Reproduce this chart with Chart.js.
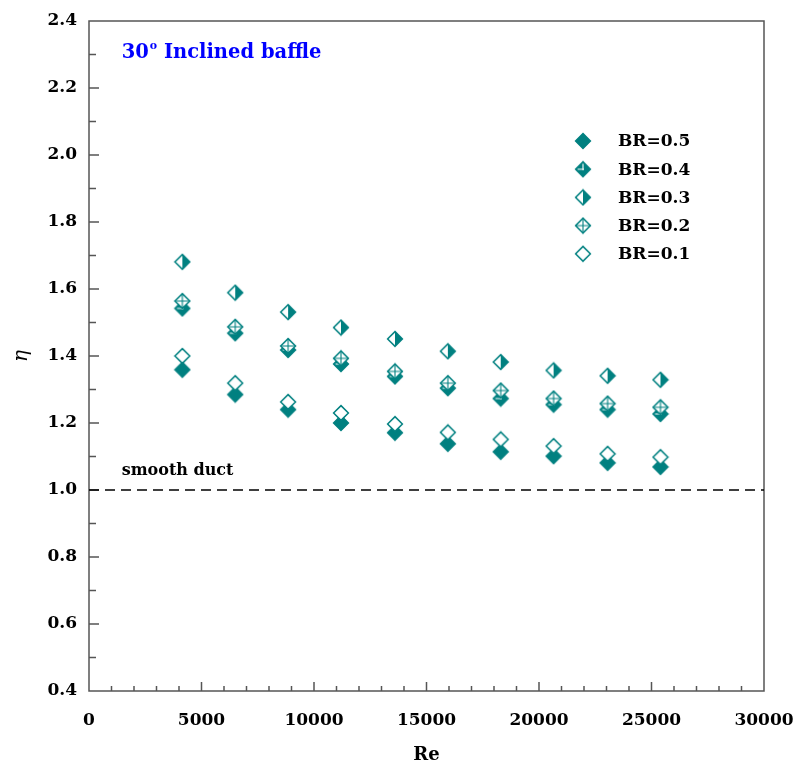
<!DOCTYPE html>
<html>
<head>
<meta charset="utf-8">
<script src="https://cdn.jsdelivr.net/npm/chart.js@4"></script>
<style>
  html, body { margin: 0; padding: 0; background: #fff; }
  #wrap { width: 793px; height: 772px; }
</style>
</head>
<body>
<div id="wrap"><canvas id="chart"></canvas></div>
<script>
// Re values (x) shared by every series
const reValues = [4150, 6500, 8850, 11200, 13600, 15950, 18300, 20650, 23050, 25400];

// thermal performance factor per blockage ratio
const etaBR05 = [1.359, 1.285, 1.240, 1.200, 1.171, 1.138, 1.114, 1.101, 1.081, 1.069];
const etaBR04 = [1.542, 1.468, 1.418, 1.376, 1.339, 1.304, 1.273, 1.255, 1.240, 1.227];
const etaBR03 = [1.681, 1.589, 1.531, 1.485, 1.451, 1.414, 1.382, 1.357, 1.341, 1.329];
const etaBR02 = [1.564, 1.487, 1.430, 1.393, 1.354, 1.319, 1.297, 1.273, 1.258, 1.247];
const etaBR01 = [1.400, 1.319, 1.263, 1.230, 1.197, 1.172, 1.151, 1.131, 1.108, 1.098];

const seriesLabels = ["BR=0.5", "BR=0.4", "BR=0.3", "BR=0.2", "BR=0.1"];
const markerKinds = ["full", "fullCross", "half", "cross", "open"];
const smoothDuct = [1.0, 1.0];
const smoothDuctRe = [0, 30000];

const teal = "#008080";
const serif = "'DejaVu Serif', 'Liberation Serif', serif";

// dibuja un rombo como imagen para usarlo como pointStyle
function makeMarker(kind) {
    const c = document.createElement("canvas");
    c.width = 18; c.height = 18;
    const g = c.getContext("2d");
    const m = 9, r = 7.4;
    const diamond = () => {
        g.beginPath();
        g.moveTo(m, m - r); g.lineTo(m + r, m); g.lineTo(m, m + r); g.lineTo(m - r, m);
        g.closePath();
    };
    g.lineWidth = 1.5;
    g.strokeStyle = teal;
    diamond();
    if (kind === "full" || kind === "fullCross") {
        g.fillStyle = teal; g.fill();
    } else {
        g.fillStyle = "#fff"; g.fill();
    }
    if (kind === "half") {
        g.beginPath();
        g.moveTo(m, m - r); g.lineTo(m + r, m); g.lineTo(m, m + r); g.closePath();
        g.fillStyle = teal; g.fill();
    }
    diamond(); g.stroke();
    if (kind === "cross") {
        g.beginPath();
        g.moveTo(m, m - r); g.lineTo(m, m + r);
        g.moveTo(m - r, m); g.lineTo(m + r, m);
        g.lineWidth = 1.1; g.stroke();
    }
    if (kind === "fullCross") {
        g.beginPath();
        g.moveTo(m, m - r + 2); g.lineTo(m, m + 1);
        g.moveTo(m - r + 2, m); g.lineTo(m + 1, m);
        g.strokeStyle = "#fff"; g.lineWidth = 1.1; g.stroke();
    }
    return c;
}

const markers = markerKinds.map(makeMarker);
const seriesValues = [etaBR05, etaBR04, etaBR03, etaBR02, etaBR01];

const datasets = seriesValues.map((vals, i) => ({
    type: "scatter",
    label: seriesLabels[i],
    data: reValues.map((x, j) => ({ x: x, y: vals[j] })),
    pointStyle: markers[i],
    pointRadius: 8,
    order: 5 - i
}));

// línea discontinua del conducto liso
datasets.push({
    type: "line",
    label: "smooth duct",
    data: smoothDuctRe.map((x, j) => ({ x: x, y: smoothDuct[j] })),
    borderColor: "#000",
    borderWidth: 1.6,
    borderDash: [10, 6],
    pointRadius: 0,
    order: 10
});

// marco, marcas de los ejes hacia dentro, textos y leyenda
const framePlugin = {
    id: "frame",
    beforeDatasetsDraw(chart) {
        const { ctx, chartArea: a, scales } = chart;
        ctx.save();
        ctx.strokeStyle = "#555";
        ctx.lineWidth = 1.5;
        ctx.strokeRect(a.left, a.top, a.right - a.left, a.bottom - a.top);
        ctx.beginPath();
        for (let v = 1000; v < 30000; v += 1000) {
            const px = scales.x.getPixelForValue(v);
            const len = v % 5000 === 0 ? 9 : 5;
            ctx.moveTo(px, a.bottom); ctx.lineTo(px, a.bottom - len);
        }
        for (let k = 5; k < 24; k++) {
            const py = scales.y.getPixelForValue(k / 10);
            const len = k % 2 === 0 ? 10 : 7;
            ctx.moveTo(a.left, py); ctx.lineTo(a.left + len, py);
        }
        ctx.stroke();
        ctx.restore();
    },
    afterDraw(chart) {
        const { ctx, scales } = chart;
        ctx.save();
        // título en azul
        ctx.fillStyle = "#0000ff";
        ctx.textBaseline = "alphabetic";
        let tx = scales.x.getPixelForValue(1450);
        const ty = scales.y.getPixelForValue(2.29);
        ctx.font = "bold 19.5px " + serif;
        ctx.fillText("30", tx, ty);
        tx += ctx.measureText("30").width + 1;
        ctx.font = "bold 11px " + serif;
        ctx.fillText("o", tx, ty - 9);
        tx += ctx.measureText("o").width;
        ctx.font = "bold 19.5px " + serif;
        ctx.fillText(" Inclined baffle", tx, ty);

        ctx.fillStyle = "#000";
        ctx.font = "bold 16px " + serif;
        ctx.textBaseline = "middle";
        ctx.fillText("smooth duct", scales.x.getPixelForValue(1450), scales.y.getPixelForValue(1.058));

        // leyenda
        ctx.font = "bold 17px " + serif;
        const lx = 583;
        seriesLabels.forEach((lab, i) => {
            const ly = 141 + i * 28.2;
            ctx.drawImage(markers[i], lx - 9, ly - 9);
            ctx.fillText(lab, 618, ly + 1);
        });
        ctx.restore();
    }
};

new Chart(document.getElementById("chart"), {
    data: { datasets: datasets },
    options: {
        responsive: true,
        maintainAspectRatio: false,
        animation: false,
        layout: { padding: { top: 21, right: 29, left: 0, bottom: 0 } },
        plugins: { legend: { display: false }, tooltip: { enabled: false } },
        scales: {
            x: {
                type: "linear",
                min: 0, max: 30000,
                grid: { display: false, drawTicks: false },
                border: { display: false },
                afterFit: s => { s.height = 81; s.paddingLeft = 0; s.paddingRight = 0; },
                ticks: {
                    stepSize: 5000,
                    padding: 19,
                    color: "#000",
                    maxRotation: 0,
                    font: { family: serif, size: 17, weight: "bold" },
                    callback: v => String(v)
                },
                title: {
                    display: true, text: "Re", color: "#000",
                    padding: { top: 0, bottom: 6 },
                    font: { family: serif, size: 18, weight: "bold" }
                }
            },
            y: {
                type: "linear",
                min: 0.4, max: 2.4,
                grid: { display: false, drawTicks: false },
                border: { display: false },
                afterFit: s => { s.width = 89; s.paddingTop = 0; s.paddingBottom = 0; },
                ticks: {
                    stepSize: 0.2,
                    padding: 12,
                    color: "#000",
                    font: { family: serif, size: 17, weight: "bold" },
                    callback: v => Number(v).toFixed(1)
                },
                title: {
                    display: true, text: "η", color: "#000",
                    padding: { top: 10, bottom: 0 },
                    font: { family: serif, size: 20, style: "italic" }
                }
            }
        }
    },
    plugins: [framePlugin]
});
</script>
</body>
</html>
